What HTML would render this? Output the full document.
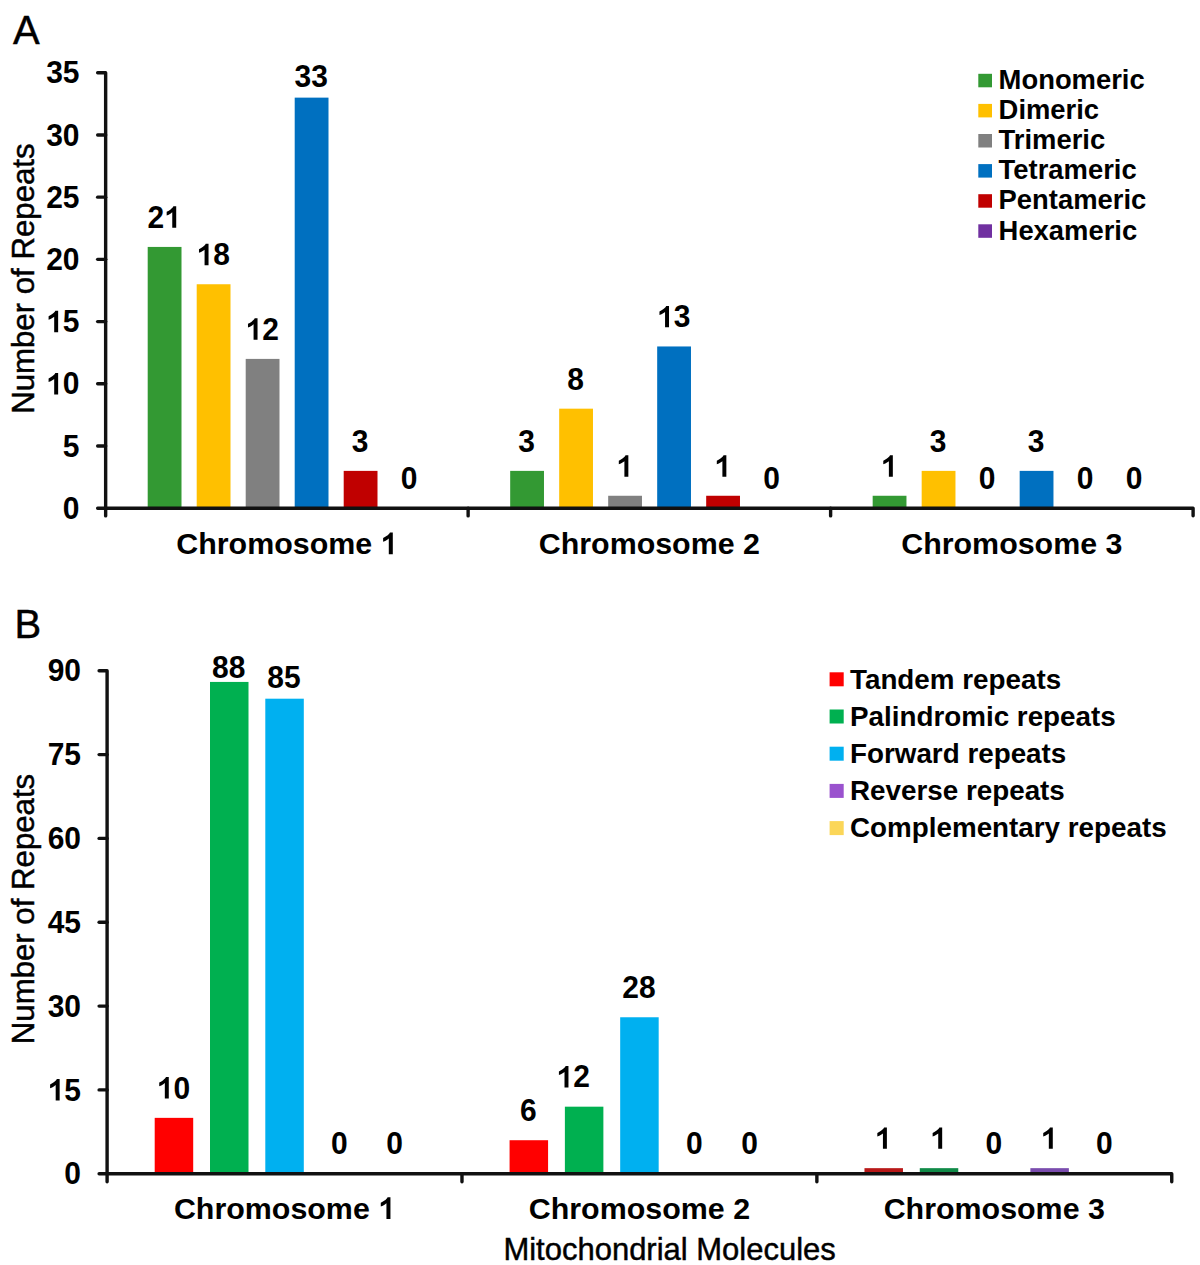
<!DOCTYPE html>
<html><head><meta charset="utf-8"><title>Repeats</title>
<style>
html,body{margin:0;padding:0;background:#fff;}
body{width:1200px;height:1265px;overflow:hidden;}
svg{display:block;}
text{font-family:"Liberation Sans", sans-serif;fill:#000;}
text.r{stroke:#000;stroke-width:0.45px;}
</style></head><body>
<svg width="1200" height="1265" viewBox="0 0 1200 1265">
<rect x="0" y="0" width="1200" height="1265" fill="#fff"/>
<rect x="147.70" y="246.93" width="33.80" height="261.27" fill="#339933"/>
<text transform="translate(147.52,227.83) scale(1,1.035)" font-size="30" font-weight="bold" text-anchor="start">2</text>
<path transform="translate(164.20,227.83) scale(0.01465,-0.01465)" d="M820 0L820 1466L628 1466C588 1380 508 1300 418 1240C328 1180 238 1120 168 1090L168 840C258 870 358 920 448 980C488 1005 523 1030 550 1055L550 0Z"/>
<rect x="196.70" y="284.25" width="33.80" height="223.95" fill="#FFC000"/>
<path transform="translate(196.52,265.15) scale(0.01465,-0.01465)" d="M820 0L820 1466L628 1466C588 1380 508 1300 418 1240C328 1180 238 1120 168 1090L168 840C258 870 358 920 448 980C488 1005 523 1030 550 1055L550 0Z"/>
<text transform="translate(213.20,265.15) scale(1,1.035)" font-size="30" font-weight="bold" text-anchor="start">8</text>
<rect x="245.70" y="358.90" width="33.80" height="149.30" fill="#808080"/>
<path transform="translate(245.52,339.80) scale(0.01465,-0.01465)" d="M820 0L820 1466L628 1466C588 1380 508 1300 418 1240C328 1180 238 1120 168 1090L168 840C258 870 358 920 448 980C488 1005 523 1030 550 1055L550 0Z"/>
<text transform="translate(262.20,339.80) scale(1,1.035)" font-size="30" font-weight="bold" text-anchor="start">2</text>
<rect x="294.70" y="97.63" width="33.80" height="410.57" fill="#0070C0"/>
<text transform="translate(294.52,86.50) scale(1,1.035)" font-size="30" font-weight="bold" text-anchor="start">33</text>
<rect x="343.70" y="470.88" width="33.80" height="37.32" fill="#C00000"/>
<text transform="translate(351.86,451.78) scale(1,1.035)" font-size="30" font-weight="bold" text-anchor="start">3</text>
<text transform="translate(400.86,489.10) scale(1,1.035)" font-size="30" font-weight="bold" text-anchor="start">0</text>
<rect x="510.18" y="470.88" width="33.80" height="37.32" fill="#339933"/>
<text transform="translate(518.34,451.78) scale(1,1.035)" font-size="30" font-weight="bold" text-anchor="start">3</text>
<rect x="559.18" y="408.67" width="33.80" height="99.53" fill="#FFC000"/>
<text transform="translate(567.34,389.57) scale(1,1.035)" font-size="30" font-weight="bold" text-anchor="start">8</text>
<rect x="608.18" y="495.76" width="33.80" height="12.44" fill="#808080"/>
<path transform="translate(616.34,476.66) scale(0.01465,-0.01465)" d="M820 0L820 1466L628 1466C588 1380 508 1300 418 1240C328 1180 238 1120 168 1090L168 840C258 870 358 920 448 980C488 1005 523 1030 550 1055L550 0Z"/>
<rect x="657.18" y="346.46" width="33.80" height="161.74" fill="#0070C0"/>
<path transform="translate(657.00,327.36) scale(0.01465,-0.01465)" d="M820 0L820 1466L628 1466C588 1380 508 1300 418 1240C328 1180 238 1120 168 1090L168 840C258 870 358 920 448 980C488 1005 523 1030 550 1055L550 0Z"/>
<text transform="translate(673.68,327.36) scale(1,1.035)" font-size="30" font-weight="bold" text-anchor="start">3</text>
<rect x="706.18" y="495.76" width="33.80" height="12.44" fill="#C00000"/>
<path transform="translate(714.34,476.66) scale(0.01465,-0.01465)" d="M820 0L820 1466L628 1466C588 1380 508 1300 418 1240C328 1180 238 1120 168 1090L168 840C258 870 358 920 448 980C488 1005 523 1030 550 1055L550 0Z"/>
<text transform="translate(763.34,489.10) scale(1,1.035)" font-size="30" font-weight="bold" text-anchor="start">0</text>
<rect x="872.67" y="495.76" width="33.80" height="12.44" fill="#339933"/>
<path transform="translate(880.82,476.66) scale(0.01465,-0.01465)" d="M820 0L820 1466L628 1466C588 1380 508 1300 418 1240C328 1180 238 1120 168 1090L168 840C258 870 358 920 448 980C488 1005 523 1030 550 1055L550 0Z"/>
<rect x="921.67" y="470.88" width="33.80" height="37.32" fill="#FFC000"/>
<text transform="translate(929.82,451.78) scale(1,1.035)" font-size="30" font-weight="bold" text-anchor="start">3</text>
<text transform="translate(978.82,489.10) scale(1,1.035)" font-size="30" font-weight="bold" text-anchor="start">0</text>
<rect x="1019.67" y="470.88" width="33.80" height="37.32" fill="#0070C0"/>
<text transform="translate(1027.82,451.78) scale(1,1.035)" font-size="30" font-weight="bold" text-anchor="start">3</text>
<text transform="translate(1076.82,489.10) scale(1,1.035)" font-size="30" font-weight="bold" text-anchor="start">0</text>
<text transform="translate(1125.82,489.10) scale(1,1.035)" font-size="30" font-weight="bold" text-anchor="start">0</text>
<polyline points="97.65,72.75 105.65,72.75 105.65,515.90" fill="none" stroke="#111" stroke-width="3.4" stroke-linecap="round" stroke-linejoin="round"/>
<polyline points="97.65,508.20 1193.10,508.20 1193.10,515.70" fill="none" stroke="#111" stroke-width="3.4" stroke-linecap="round" stroke-linejoin="round"/>
<line x1="97.65" y1="445.99" x2="105.65" y2="445.99" stroke="#111" stroke-width="3.4" stroke-linecap="round"/>
<line x1="97.65" y1="383.79" x2="105.65" y2="383.79" stroke="#111" stroke-width="3.4" stroke-linecap="round"/>
<line x1="97.65" y1="321.58" x2="105.65" y2="321.58" stroke="#111" stroke-width="3.4" stroke-linecap="round"/>
<line x1="97.65" y1="259.37" x2="105.65" y2="259.37" stroke="#111" stroke-width="3.4" stroke-linecap="round"/>
<line x1="97.65" y1="197.16" x2="105.65" y2="197.16" stroke="#111" stroke-width="3.4" stroke-linecap="round"/>
<line x1="97.65" y1="134.96" x2="105.65" y2="134.96" stroke="#111" stroke-width="3.4" stroke-linecap="round"/>
<text transform="translate(62.82,518.80) scale(1,1.035)" font-size="30" font-weight="bold" text-anchor="start">0</text>
<text transform="translate(62.82,456.59) scale(1,1.035)" font-size="30" font-weight="bold" text-anchor="start">5</text>
<path transform="translate(46.13,394.39) scale(0.01465,-0.01465)" d="M820 0L820 1466L628 1466C588 1380 508 1300 418 1240C328 1180 238 1120 168 1090L168 840C258 870 358 920 448 980C488 1005 523 1030 550 1055L550 0Z"/>
<text transform="translate(62.82,394.39) scale(1,1.035)" font-size="30" font-weight="bold" text-anchor="start">0</text>
<path transform="translate(46.13,332.18) scale(0.01465,-0.01465)" d="M820 0L820 1466L628 1466C588 1380 508 1300 418 1240C328 1180 238 1120 168 1090L168 840C258 870 358 920 448 980C488 1005 523 1030 550 1055L550 0Z"/>
<text transform="translate(62.82,332.18) scale(1,1.035)" font-size="30" font-weight="bold" text-anchor="start">5</text>
<text transform="translate(46.13,269.97) scale(1,1.035)" font-size="30" font-weight="bold" text-anchor="start">20</text>
<text transform="translate(46.13,207.76) scale(1,1.035)" font-size="30" font-weight="bold" text-anchor="start">25</text>
<text transform="translate(46.13,145.56) scale(1,1.035)" font-size="30" font-weight="bold" text-anchor="start">30</text>
<text transform="translate(46.13,83.35) scale(1,1.035)" font-size="30" font-weight="bold" text-anchor="start">35</text>
<line x1="468.13" y1="508.20" x2="468.13" y2="515.90" stroke="#111" stroke-width="3.4" stroke-linecap="round"/>
<line x1="830.62" y1="508.20" x2="830.62" y2="515.90" stroke="#111" stroke-width="3.4" stroke-linecap="round"/>
<text transform="translate(176.25,554.20)" font-size="30.4" font-weight="bold" text-anchor="start">Chromosome</text>
<path transform="translate(380.63,554.20) scale(0.01484,-0.01484)" d="M820 0L820 1466L628 1466C588 1380 508 1300 418 1240C328 1180 238 1120 168 1090L168 840C258 870 358 920 448 980C488 1005 523 1030 550 1055L550 0Z"/>
<text transform="translate(538.73,554.20)" font-size="30.4" font-weight="bold" text-anchor="start">Chromosome</text>
<text transform="translate(743.11,554.20)" font-size="30.4" font-weight="bold" text-anchor="start">2</text>
<text transform="translate(901.21,554.20)" font-size="30.4" font-weight="bold" text-anchor="start">Chromosome</text>
<text transform="translate(1105.59,554.20)" font-size="30.4" font-weight="bold" text-anchor="start">3</text>
<rect x="978.30" y="73.80" width="13.70" height="13.50" fill="#339933"/>
<text transform="translate(998.60,89.00)" font-size="27.4" font-weight="bold" text-anchor="start">Monomeric</text>
<rect x="978.30" y="103.90" width="13.70" height="13.50" fill="#FFC000"/>
<text transform="translate(998.60,119.10)" font-size="27.4" font-weight="bold" text-anchor="start">Dimeric</text>
<rect x="978.30" y="134.00" width="13.70" height="13.50" fill="#808080"/>
<text transform="translate(998.60,149.20)" font-size="27.4" font-weight="bold" text-anchor="start">Trimeric</text>
<rect x="978.30" y="164.10" width="13.70" height="13.50" fill="#0070C0"/>
<text transform="translate(998.60,179.30)" font-size="27.4" font-weight="bold" text-anchor="start">Tetrameric</text>
<rect x="978.30" y="194.20" width="13.70" height="13.50" fill="#C00000"/>
<text transform="translate(998.60,209.40)" font-size="27.4" font-weight="bold" text-anchor="start">Pentameric</text>
<rect x="978.30" y="224.30" width="13.70" height="13.50" fill="#7030A0"/>
<text transform="translate(998.60,239.50)" font-size="27.4" font-weight="bold" text-anchor="start">Hexameric</text>
<text transform="translate(13.00,44.40)" font-size="40" font-weight="normal" text-anchor="start" class="r">A</text>
<text class="r" transform="translate(33.8,278.6) rotate(-90)" font-size="31.2" text-anchor="middle">Number of Repeats</text>
<rect x="154.70" y="1117.86" width="38.50" height="55.89" fill="#FF0000"/>
<path transform="translate(156.77,1098.56) scale(0.01465,-0.01465)" d="M820 0L820 1466L628 1466C588 1380 508 1300 418 1240C328 1180 238 1120 168 1090L168 840C258 870 358 920 448 980C488 1005 523 1030 550 1055L550 0Z"/>
<text transform="translate(173.45,1098.56) scale(1,1.035)" font-size="30" font-weight="bold" text-anchor="start">0</text>
<rect x="210.00" y="681.93" width="38.50" height="491.82" fill="#00B050"/>
<text transform="translate(212.07,678.00) scale(1,1.035)" font-size="30" font-weight="bold" text-anchor="start">88</text>
<rect x="265.30" y="698.69" width="38.50" height="475.06" fill="#00B0F0"/>
<text transform="translate(267.37,687.70) scale(1,1.035)" font-size="30" font-weight="bold" text-anchor="start">85</text>
<text transform="translate(331.01,1154.45) scale(1,1.035)" font-size="30" font-weight="bold" text-anchor="start">0</text>
<text transform="translate(386.31,1154.45) scale(1,1.035)" font-size="30" font-weight="bold" text-anchor="start">0</text>
<rect x="509.58" y="1140.22" width="38.50" height="33.53" fill="#FF0000"/>
<text transform="translate(519.99,1120.92) scale(1,1.035)" font-size="30" font-weight="bold" text-anchor="start">6</text>
<rect x="564.88" y="1106.68" width="38.50" height="67.07" fill="#00B050"/>
<path transform="translate(556.45,1087.38) scale(0.01465,-0.01465)" d="M820 0L820 1466L628 1466C588 1380 508 1300 418 1240C328 1180 238 1120 168 1090L168 840C258 870 358 920 448 980C488 1005 523 1030 550 1055L550 0Z"/>
<text transform="translate(573.13,1087.38) scale(1,1.035)" font-size="30" font-weight="bold" text-anchor="start">2</text>
<rect x="620.18" y="1017.26" width="38.50" height="156.49" fill="#00B0F0"/>
<text transform="translate(622.25,997.96) scale(1,1.035)" font-size="30" font-weight="bold" text-anchor="start">28</text>
<text transform="translate(685.89,1154.45) scale(1,1.035)" font-size="30" font-weight="bold" text-anchor="start">0</text>
<text transform="translate(741.19,1154.45) scale(1,1.035)" font-size="30" font-weight="bold" text-anchor="start">0</text>
<rect x="864.47" y="1168.16" width="38.50" height="5.59" fill="#B81818"/>
<path transform="translate(874.87,1148.86) scale(0.01465,-0.01465)" d="M820 0L820 1466L628 1466C588 1380 508 1300 418 1240C328 1180 238 1120 168 1090L168 840C258 870 358 920 448 980C488 1005 523 1030 550 1055L550 0Z"/>
<rect x="919.77" y="1168.16" width="38.50" height="5.59" fill="#108A48"/>
<path transform="translate(930.17,1148.86) scale(0.01465,-0.01465)" d="M820 0L820 1466L628 1466C588 1380 508 1300 418 1240C328 1180 238 1120 168 1090L168 840C258 870 358 920 448 980C488 1005 523 1030 550 1055L550 0Z"/>
<text transform="translate(985.47,1154.45) scale(1,1.035)" font-size="30" font-weight="bold" text-anchor="start">0</text>
<rect x="1030.37" y="1168.16" width="38.50" height="5.59" fill="#7A4CAE"/>
<path transform="translate(1040.77,1148.86) scale(0.01465,-0.01465)" d="M820 0L820 1466L628 1466C588 1380 508 1300 418 1240C328 1180 238 1120 168 1090L168 840C258 870 358 920 448 980C488 1005 523 1030 550 1055L550 0Z"/>
<text transform="translate(1096.07,1154.45) scale(1,1.035)" font-size="30" font-weight="bold" text-anchor="start">0</text>
<polyline points="99.10,670.75 107.10,670.75 107.10,1181.75" fill="none" stroke="#111" stroke-width="3.4" stroke-linecap="round" stroke-linejoin="round"/>
<polyline points="99.10,1173.75 1171.75,1173.75 1171.75,1181.75" fill="none" stroke="#111" stroke-width="3.4" stroke-linecap="round" stroke-linejoin="round"/>
<line x1="99.10" y1="1089.92" x2="107.10" y2="1089.92" stroke="#111" stroke-width="3.4" stroke-linecap="round"/>
<line x1="99.10" y1="1006.08" x2="107.10" y2="1006.08" stroke="#111" stroke-width="3.4" stroke-linecap="round"/>
<line x1="99.10" y1="922.25" x2="107.10" y2="922.25" stroke="#111" stroke-width="3.4" stroke-linecap="round"/>
<line x1="99.10" y1="838.42" x2="107.10" y2="838.42" stroke="#111" stroke-width="3.4" stroke-linecap="round"/>
<line x1="99.10" y1="754.58" x2="107.10" y2="754.58" stroke="#111" stroke-width="3.4" stroke-linecap="round"/>
<text transform="translate(64.32,1184.35) scale(1,1.035)" font-size="30" font-weight="bold" text-anchor="start">0</text>
<path transform="translate(47.63,1100.52) scale(0.01465,-0.01465)" d="M820 0L820 1466L628 1466C588 1380 508 1300 418 1240C328 1180 238 1120 168 1090L168 840C258 870 358 920 448 980C488 1005 523 1030 550 1055L550 0Z"/>
<text transform="translate(64.32,1100.52) scale(1,1.035)" font-size="30" font-weight="bold" text-anchor="start">5</text>
<text transform="translate(47.63,1016.68) scale(1,1.035)" font-size="30" font-weight="bold" text-anchor="start">30</text>
<text transform="translate(47.63,932.85) scale(1,1.035)" font-size="30" font-weight="bold" text-anchor="start">45</text>
<text transform="translate(47.63,849.02) scale(1,1.035)" font-size="30" font-weight="bold" text-anchor="start">60</text>
<text transform="translate(47.63,765.18) scale(1,1.035)" font-size="30" font-weight="bold" text-anchor="start">75</text>
<text transform="translate(47.63,681.35) scale(1,1.035)" font-size="30" font-weight="bold" text-anchor="start">90</text>
<line x1="461.98" y1="1173.75" x2="461.98" y2="1181.75" stroke="#111" stroke-width="3.4" stroke-linecap="round"/>
<line x1="816.87" y1="1173.75" x2="816.87" y2="1181.75" stroke="#111" stroke-width="3.4" stroke-linecap="round"/>
<text transform="translate(173.90,1219.00)" font-size="30.4" font-weight="bold" text-anchor="start">Chromosome</text>
<path transform="translate(378.28,1219.00) scale(0.01484,-0.01484)" d="M820 0L820 1466L628 1466C588 1380 508 1300 418 1240C328 1180 238 1120 168 1090L168 840C258 870 358 920 448 980C488 1005 523 1030 550 1055L550 0Z"/>
<text transform="translate(528.78,1219.00)" font-size="30.4" font-weight="bold" text-anchor="start">Chromosome</text>
<text transform="translate(733.16,1219.00)" font-size="30.4" font-weight="bold" text-anchor="start">2</text>
<text transform="translate(883.66,1219.00)" font-size="30.4" font-weight="bold" text-anchor="start">Chromosome</text>
<text transform="translate(1088.04,1219.00)" font-size="30.4" font-weight="bold" text-anchor="start">3</text>
<rect x="829.60" y="672.30" width="14.10" height="14.00" fill="#FF0000"/>
<text transform="translate(850.00,689.00)" font-size="27.8" font-weight="bold" text-anchor="start">Tandem repeats</text>
<rect x="829.60" y="709.50" width="14.10" height="14.00" fill="#00B050"/>
<text transform="translate(850.00,725.95)" font-size="27.8" font-weight="bold" text-anchor="start">Palindromic repeats</text>
<rect x="829.60" y="746.70" width="14.10" height="14.00" fill="#00B0F0"/>
<text transform="translate(850.00,762.90)" font-size="27.8" font-weight="bold" text-anchor="start">Forward repeats</text>
<rect x="829.60" y="783.90" width="14.10" height="14.00" fill="#9A52CE"/>
<text transform="translate(850.00,799.85)" font-size="27.8" font-weight="bold" text-anchor="start">Reverse repeats</text>
<rect x="829.60" y="821.10" width="14.10" height="14.00" fill="#FBD658"/>
<text transform="translate(850.00,836.80)" font-size="27.8" font-weight="bold" text-anchor="start">Complementary repeats</text>
<text transform="translate(14.40,638.20) scale(1,1.03)" font-size="40" font-weight="normal" text-anchor="start" class="r">B</text>
<text class="r" transform="translate(33.9,909.0) rotate(-90)" font-size="31.2" text-anchor="middle">Number of Repeats</text>
<text transform="translate(669.60,1260.30) scale(1,1.03)" font-size="31" font-weight="normal" text-anchor="middle" class="r">Mitochondrial Molecules</text>
</svg>
</body></html>
